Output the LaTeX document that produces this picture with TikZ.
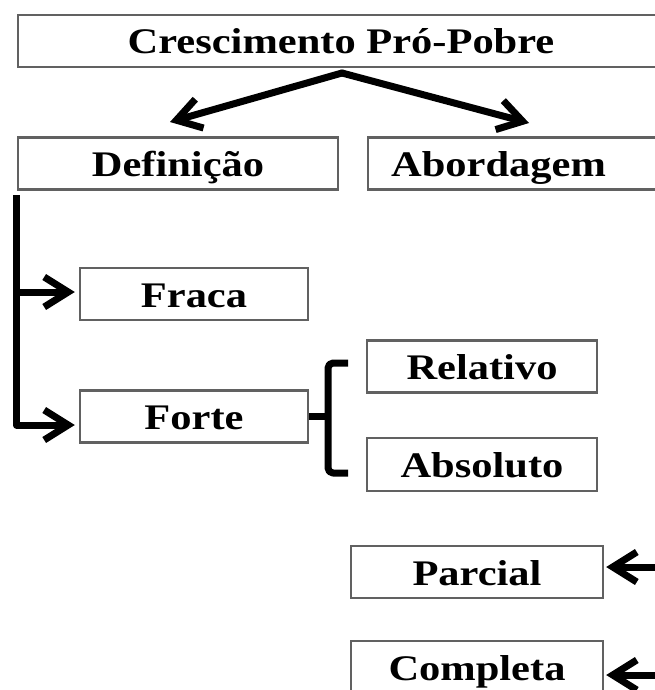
\documentclass[tikz,border=0pt]{standalone}
\usepackage{fontspec}
\usepackage{graphicx}
\setmainfont{Liberation Serif}
\usetikzlibrary{arrows.meta}
\newcommand\tx[1]{\scalebox{1.18}[1]{#1}}
\begin{document}
\begin{tikzpicture}[x=1pt,y=-1pt,
  box/.style={draw=black!62, line width=2.4pt, fill=white, minimum height=52pt,
    inner sep=0pt, text height=26pt, text depth=0pt,
    font=\fontsize{36}{40}\selectfont\bfseries},
  conn/.style={line width=7pt, line cap=round, line join=round},
  arr/.style={conn, -{Straight Barb[length=24pt, width=30pt]}},
]
\useasboundingbox (0,0) rectangle (654,690);

\node[box, minimum width=646pt] (top) at (341,41) {\tx{Crescimento Pró-Pobre}};
\node[box, minimum width=320pt] (def) at (178,163.5) {\tx{Definição}};
\node[box, anchor=west, minimum width=320pt] (abo) at (367,163.5) {\makebox[274pt][l]{\tx{Abordagem}}};
\node[box, minimum width=228pt] (fraca) at (194,294) {\tx{Fraca}};
\node[box, minimum width=228pt] (forte) at (194,416.5) {\tx{Forte}};
\node[box, minimum width=230pt] (rel) at (482,366.5) {\tx{Relativo}};
\node[box, minimum width=230pt, minimum height=53pt] (abs) at (482,464.5) {\tx{Absoluto}};
\node[box, minimum width=252pt] (par) at (477,572) {\tx{Parcial}};
\node[box, minimum width=252pt] (com) at (477,667) {\tx{Completa}};

% top split
\coordinate (o) at (342,73);
\coordinate (tl) at (170,122);
\coordinate (tr) at (529,123);
\draw[arr] (o) -- (tl);
\draw[arr] (o) -- (tr);

% left tree
\coordinate (v0) at (16.5,195);
\coordinate (v1) at (16.5,292);
\coordinate (v2) at (16.5,425);
\draw[arr, line cap=butt, shorten >=4pt] (v0) -- (v2) -- (v2 -| forte.west);
\draw[arr, shorten >=4pt] (v1) -- (v1 -| fraca.west);

% bracket
\coordinate (bt) at (348,363);
\coordinate (bb) at (348,473);
\coordinate (bm) at (328,416.5);
\draw[conn, line cap=butt, rounded corners=5pt] (bt) -- (328,363) -- (328,473) -- (bb);
\draw[conn, line cap=butt] (forte.east) -- (bm);

% right arrows
\coordinate (rp) at (662,567);
\coordinate (rc) at (662,675);
\draw[arr, shorten >=2pt] (rp) -- (rp -| par.east);
\draw[arr, shorten >=2pt] (rc) -- (rc -| com.east);
\end{tikzpicture}
\end{document}
